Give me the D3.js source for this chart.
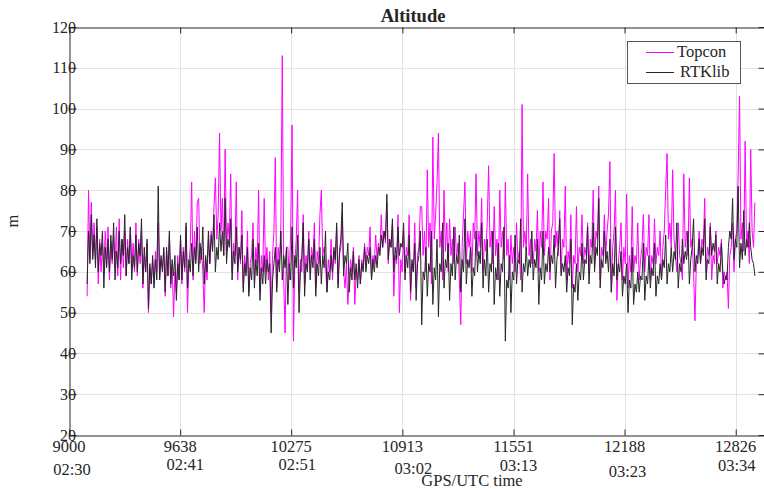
<!DOCTYPE html>
<html lang="en">
<head>
<meta charset="UTF-8">
<title>Altitude</title>
<script src="https://d3js.org/d3.v7.min.js"></script>
<style>
    body { margin: 0; background: #fff; }
    text { font-family: "Liberation Serif", "Times New Roman", serif; fill: #262626; }
    .line { fill: none; stroke-width: 1px; }
</style>
</head>
<body>
<script>
    // sample times (GPS seconds), one value every 8 s
    var tStart = 9104, tStep = 8;

    // Topcon altitude (m), 40 samples per row
    var topcon = [
        54, 80, 63, 77, 64, 72, 63, 71, 57, 68, 60, 67, 61, 70, 62, 71, 58, 67, 62, 69, 61, 71, 59, 73, 58, 68, 61, 70, 59, 68, 62, 71, 61, 67, 60, 72, 59, 68, 62, 70,
        56, 64, 60, 67, 50, 61, 57, 63, 57, 65, 60, 72, 58, 63, 61, 65, 54, 65, 59, 69, 56, 62, 49, 60, 55, 64, 58, 68, 57, 66, 60, 71, 50, 62, 66, 82, 58, 70, 63, 77,
        78, 62, 66, 60, 50, 63, 58, 68, 62, 70, 66, 76, 83, 68, 74, 94, 70, 78, 64, 90, 65, 72, 68, 84, 60, 67, 64, 82, 58, 66, 62, 75, 56, 64, 60, 70, 55, 62, 64, 72,
        58, 66, 62, 80, 55, 64, 60, 78, 60, 66, 58, 65, 50, 64, 70, 88, 56, 66, 62, 72, 113, 58, 45, 66, 66, 58, 70, 96, 43, 62, 68, 80, 55, 63, 60, 74, 57, 64, 61, 70,
        60, 66, 63, 72, 56, 65, 62, 74, 80, 64, 66, 62, 55, 63, 60, 68, 58, 65, 62, 71, 57, 64, 66, 74, 60, 56, 62, 52, 58, 63, 60, 66, 52, 60, 58, 64, 57, 63, 61, 67,
        62, 66, 64, 71, 58, 64, 62, 69, 63, 67, 65, 74, 66, 70, 67, 77, 62, 68, 66, 72, 54, 64, 62, 74, 50, 63, 60, 70, 60, 66, 64, 74, 53, 62, 60, 72, 56, 64, 66, 76,
        76, 64, 70, 60, 85, 66, 72, 57, 93, 68, 74, 82, 94, 66, 70, 58, 80, 65, 72, 60, 73, 64, 68, 62, 71, 63, 67, 58, 47, 66, 74, 82, 62, 70, 66, 70, 60, 72, 68, 84,
        64, 70, 66, 78, 60, 68, 65, 72, 86, 66, 70, 62, 76, 64, 68, 58, 80, 66, 70, 63, 82, 64, 68, 58, 69, 62, 66, 60, 72, 63, 65, 58, 101, 66, 70, 65, 84, 64, 68, 62,
        62, 68, 65, 75, 60, 70, 66, 82, 64, 70, 68, 78, 58, 70, 72, 89, 66, 70, 64, 75, 60, 68, 66, 81, 58, 65, 62, 74, 56, 64, 62, 76, 60, 66, 64, 74, 62, 66, 64, 72,
        60, 68, 66, 80, 62, 70, 68, 81, 58, 66, 64, 74, 64, 70, 74, 87, 55, 66, 70, 80, 53, 62, 66, 72, 58, 66, 62, 79, 56, 64, 60, 76, 60, 64, 62, 72, 58, 63, 66, 74,
        60, 66, 64, 74, 58, 64, 62, 73, 62, 66, 64, 70, 58, 66, 70, 80, 89, 68, 72, 66, 85, 68, 64, 60, 72, 64, 62, 58, 84, 66, 70, 64, 83, 66, 68, 60, 48, 62, 64, 70,
        62, 68, 66, 78, 60, 66, 64, 72, 58, 64, 62, 70, 62, 66, 64, 68, 56, 60, 58, 60, 51, 64, 66, 72, 60, 68, 70, 84, 103, 68, 72, 65, 92, 66, 70, 62, 90, 70, 66, 77
    ];

    // RTKlib altitude (m)
    var rtklib = [
        57, 70, 62, 74, 63, 69, 61, 73, 60, 67, 64, 70, 56, 66, 61, 68, 60, 69, 63, 72, 58, 65, 61, 70, 62, 68, 64, 74, 59, 66, 62, 71, 58, 64, 61, 69, 60, 67, 64, 73,
        57, 66, 60, 68, 51, 62, 57, 64, 56, 63, 58, 81, 58, 64, 60, 66, 55, 66, 59, 70, 57, 63, 59, 64, 53, 62, 58, 69, 58, 65, 61, 72, 56, 63, 60, 67, 59, 66, 62, 71,
        60, 67, 63, 71, 57, 64, 60, 70, 62, 69, 65, 74, 60, 66, 63, 72, 65, 70, 64, 78, 62, 68, 66, 73, 58, 65, 62, 71, 60, 66, 63, 69, 55, 62, 59, 66, 54, 61, 58, 68,
        56, 63, 59, 67, 53, 61, 57, 64, 57, 63, 60, 62, 45, 58, 62, 66, 55, 63, 60, 70, 58, 64, 61, 66, 52, 62, 58, 71, 56, 64, 61, 69, 50, 60, 64, 72, 54, 62, 60, 68,
        58, 64, 61, 68, 54, 62, 59, 66, 57, 64, 61, 70, 55, 60, 58, 64, 60, 66, 63, 72, 56, 65, 68, 77, 59, 64, 62, 67, 55, 61, 58, 65, 58, 62, 56, 63, 57, 62, 60, 66,
        60, 64, 62, 66, 58, 63, 60, 64, 61, 66, 64, 69, 66, 70, 68, 79, 63, 68, 66, 73, 60, 66, 63, 71, 64, 67, 66, 72, 58, 64, 61, 69, 55, 63, 60, 67, 53, 62, 64, 70,
        47, 60, 58, 66, 54, 62, 60, 70, 52, 61, 58, 68, 49, 62, 60, 72, 56, 63, 61, 67, 53, 62, 59, 71, 58, 64, 62, 69, 55, 63, 60, 73, 57, 63, 61, 66, 54, 61, 59, 70,
        60, 65, 62, 72, 56, 63, 59, 68, 55, 62, 60, 70, 52, 61, 58, 67, 54, 62, 60, 71, 43, 58, 56, 64, 50, 60, 58, 69, 57, 63, 62, 73, 55, 62, 60, 66, 59, 63, 61, 70,
        58, 63, 61, 68, 52, 61, 58, 70, 57, 62, 60, 66, 60, 64, 62, 69, 56, 63, 66, 73, 59, 62, 60, 64, 55, 61, 59, 68, 47, 57, 55, 62, 53, 60, 58, 67, 58, 63, 62, 71,
        57, 64, 62, 72, 60, 66, 64, 78, 56, 63, 61, 70, 62, 65, 60, 68, 55, 62, 59, 71, 58, 62, 60, 65, 54, 59, 57, 62, 50, 58, 56, 66, 52, 57, 55, 60, 55, 59, 58, 67,
        53, 59, 57, 64, 56, 61, 59, 67, 54, 59, 57, 62, 58, 63, 61, 69, 57, 62, 60, 66, 60, 65, 63, 72, 56, 62, 60, 68, 62, 65, 63, 70, 57, 63, 66, 73, 60, 64, 62, 68,
        62, 66, 64, 73, 58, 63, 62, 71, 64, 67, 65, 69, 57, 62, 60, 67, 60, 57, 59, 58, 66, 70, 68, 78, 63, 68, 66, 81, 61, 67, 63, 75, 64, 68, 66, 72, 66, 63, 62, 59
    ];

    var xTicks = [9000, 9638, 10275, 10913, 11551, 12188, 12826];
    var utcLabels = ["02:30", "02:41", "02:51", "03:02", "03:13", "03:23", "03:34"];
    var yTicks = [20, 30, 40, 50, 60, 70, 80, 90, 100, 110, 120];
    var seriesNames = ["Topcon", "RTKlib"];

    // small nudges of the UTC labels, as placed in the original
    var utcDx = [3, 5, 6, 11, 5, 3, 1];
    var utcDy = [0, -5, -5, -1, -4, 2, -4];

    var W = 764, H = 489;
    var m = { left: 69, right: 765, top: 27, bottom: 435 };

    var x = d3.scaleLinear().domain([9000, 12994]).range([m.left, m.right]);
    var y = d3.scaleLinear().domain([20, 120]).range([m.bottom, m.top]);

    var svg = d3.select("body").append("svg")
        .attr("width", W)
        .attr("height", H);

    svg.append("defs").append("clipPath").attr("id", "plotclip")
        .append("rect")
        .attr("x", m.left).attr("y", m.top)
        .attr("width", m.right - m.left).attr("height", m.bottom - m.top);

    // grid
    svg.append("g").selectAll("line")
        .data(yTicks.slice(1, -1))
        .enter().append("line")
        .attr("x1", m.left).attr("x2", m.right)
        .attr("y1", d => Math.round(y(d)) + 0.5).attr("y2", d => Math.round(y(d)) + 0.5)
        .attr("stroke", "#e3e3e3");
    svg.append("g").selectAll("line")
        .data(xTicks.slice(1))
        .enter().append("line")
        .attr("y1", m.top).attr("y2", m.bottom)
        .attr("x1", d => Math.round(x(d)) + 0.5).attr("x2", d => Math.round(x(d)) + 0.5)
        .attr("stroke", "#e3e3e3");

    // data lines
    var toPts = function (vals) {
        return vals.map(function (v, i) { return { t: tStart + i * tStep, v: v }; });
    };
    var line = d3.line()
        .x(d => x(d.t))
        .y(d => y(d.v));

    var plot = svg.append("g").attr("clip-path", "url(#plotclip)");
    plot.append("path")
        .datum(toPts(topcon))
        .attr("class", "line")
        .attr("stroke", "#ff00ff")
        .attr("d", line);
    plot.append("path")
        .datum(toPts(rtklib))
        .attr("class", "line")
        .attr("stroke", "#262626")
        .attr("stroke-width", 1.2)
        .attr("d", line);

    // axes box with inward ticks on all sides
    var bottomAx = svg.append("g")
        .attr("transform", "translate(0," + (m.bottom + 0.5) + ")")
        .call(d3.axisBottom(x).tickValues(xTicks).tickSizeInner(-6).tickSizeOuter(0).tickFormat(""));
    var topAx = svg.append("g")
        .attr("transform", "translate(0," + (m.top + 0.5) + ")")
        .call(d3.axisTop(x).tickValues(xTicks).tickSizeInner(-6).tickSizeOuter(0).tickFormat(""));
    var leftAx = svg.append("g")
        .attr("transform", "translate(" + (m.left + 0.5) + ",0)")
        .call(d3.axisLeft(y).tickValues(yTicks).tickSizeInner(-7).tickSizeOuter(0).tickFormat(""));
    var rightAx = svg.append("g")
        .attr("transform", "translate(" + (m.right - 0.5) + ",0)")
        .call(d3.axisRight(y).tickValues(yTicks).tickSizeInner(-6).tickSizeOuter(0).tickFormat(""));
    [bottomAx, topAx, leftAx, rightAx].forEach(function (g) {
        g.select(".domain").attr("stroke", "#262626");
        g.selectAll(".tick line").attr("stroke", "#262626");
    });

    // y tick labels (sit across the axis line, as in the original)
    svg.append("g").selectAll("text")
        .data(yTicks)
        .enter().append("text")
        .attr("x", m.left + 7)
        .attr("y", d => y(d) + 5.5)
        .attr("text-anchor", "end")
        .style("font-size", "16px")
        .text(d => d);

    // x tick labels, GPS seconds and UTC
    svg.append("g").selectAll("text")
        .data(xTicks)
        .enter().append("text")
        .attr("x", d => x(d))
        .attr("y", 452)
        .attr("text-anchor", "middle")
        .style("font-size", "16.5px")
        .text(d => d);
    svg.append("g").selectAll("text")
        .data(utcLabels)
        .enter().append("text")
        .attr("x", (d, i) => x(xTicks[i]) + utcDx[i])
        .attr("y", (d, i) => 475 + utcDy[i])
        .attr("text-anchor", "middle")
        .style("font-size", "16.5px")
        .text(d => d);

    // titles
    svg.append("text")
        .attr("x", 413).attr("y", 22)
        .attr("text-anchor", "middle")
        .style("font-size", "18.5px")
        .style("font-weight", "bold")
        .text("Altitude");
    svg.append("text")
        .attr("transform", "translate(18,221) rotate(-90)")
        .attr("text-anchor", "middle")
        .style("font-size", "16.5px")
        .text("m");
    svg.append("text")
        .attr("x", 472).attr("y", 486)
        .attr("text-anchor", "middle")
        .style("font-size", "16.5px")
        .text("GPS/UTC time");

    // legend
    var lg = svg.append("g");
    lg.append("rect")
        .attr("x", 627.5).attr("y", 41.5)
        .attr("width", 113).attr("height", 42)
        .attr("fill", "#fff")
        .attr("stroke", "#555");
    var legColors = ["#ff00ff", "#262626"];
    var legDx = [0, 3];
    seriesNames.forEach(function (name, i) {
        var ly = 52 + i * 20;
        lg.append("line")
            .attr("x1", 646).attr("x2", 674)
            .attr("y1", ly + 0.5).attr("y2", ly + 0.5)
            .attr("stroke", legColors[i]);
        lg.append("text")
            .attr("x", 677 + legDx[i]).attr("y", ly + 5)
            .style("font-size", "16.5px")
            .text(name);
    });
</script>
</body>
</html>
